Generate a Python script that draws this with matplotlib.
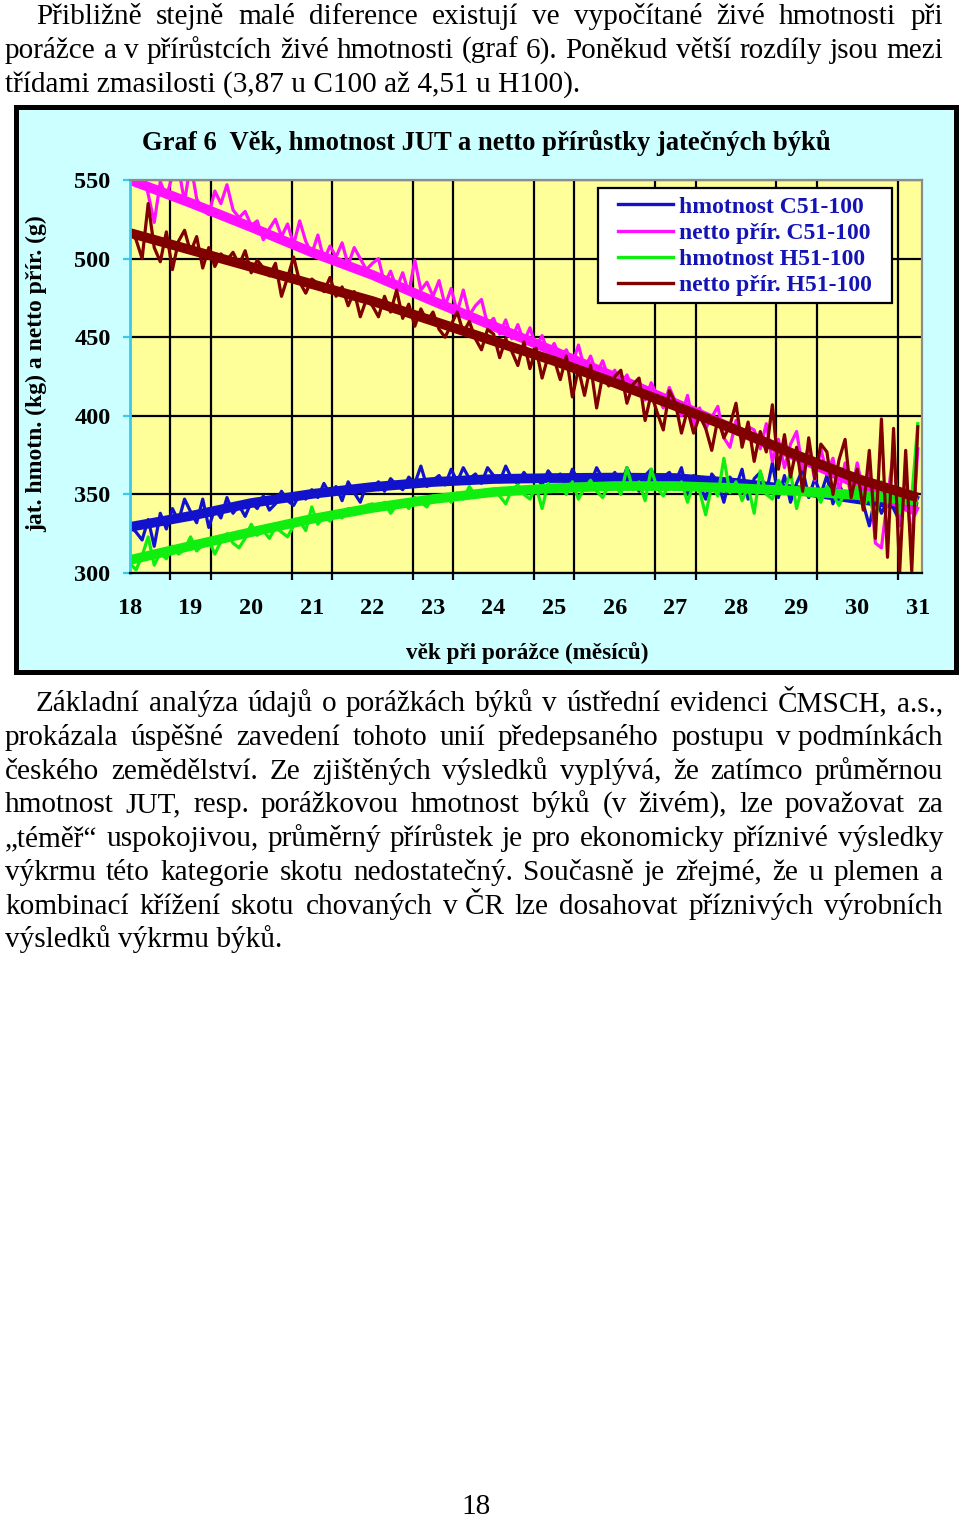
import numpy as np
import matplotlib
matplotlib.use('Agg')
import matplotlib.pyplot as plt
from matplotlib.patches import Rectangle
from matplotlib.lines import Line2D
from matplotlib.font_manager import FontProperties

W, H = 960, 1519
SERIF = 'Liberation Serif'

# ---------------- data ----------------
age = np.round(np.arange(180, 311) / 10.0, 1)   # 18.0 ... 31.0 months

hm_C = [330, 326, 321, 334, 317, 338, 328, 341, 333, 347,
        339, 332, 347, 329, 341, 335, 348, 338, 343, 336,
        345, 341, 349, 340, 344, 352, 346, 343, 350, 347,
        353, 348, 357, 350, 355, 346, 358, 351, 345, 356,
        354, 358, 352, 360, 356, 353, 361, 357, 368, 355,
        359, 362, 356, 366, 358, 367, 360, 363, 357, 367,
        362, 358, 368, 360, 357, 364, 359, 361, 356, 365,
        360, 363, 355, 366, 359, 362, 357, 367, 360, 358,
        364, 356, 367, 359, 352, 362, 366, 355, 361, 364,
        358, 367, 350, 362, 356, 347, 363, 358, 345, 361,
        355, 366, 347, 360, 364, 351, 370, 348, 362, 345,
        357, 366, 348, 360, 350, 362, 344, 356, 349, 347,
        352, 344, 330, 349, 338, 346, 341, 333, 351, 339,
        348]

netto_C = [552, 547, 556, 541, 523, 549, 539, 553, 558, 536,
           561, 538, 531, 528, 543, 535, 547, 531, 526, 530,
           521, 524, 512, 519, 525, 514, 522, 509, 524, 511,
           503, 515, 499, 508, 501, 510, 496, 507, 500, 493,
           497, 500, 484, 492, 481, 491, 478, 499, 480, 485,
           476, 486, 470, 481, 466, 480, 464, 470, 474, 458,
           462, 452, 461, 449, 458, 447, 456, 444, 451, 440,
           446, 437, 442, 433, 445, 430, 438, 427, 435, 424,
           429, 419, 426, 417, 423, 410, 421, 413, 405, 418,
           409, 400, 413, 394, 405, 392, 399, 406, 386, 380,
           397, 384, 393, 391, 379, 395, 371, 385, 367, 382,
           390, 366, 381, 359, 379, 363, 373, 352, 370, 348,
           370, 352, 365, 319, 316, 348, 377, 330, 358, 318,
           379]

hm_H = [306, 302, 311, 323, 305, 313, 309, 317, 312, 315,
        323, 314, 318, 321, 312, 320, 325, 319, 316, 322,
        331, 324, 327, 322, 329, 326, 323, 330, 333, 327,
        342, 331, 336, 333, 338, 335, 341, 337, 339, 343,
        344, 340, 345, 338, 343, 346, 341, 348, 345, 342,
        349, 346, 350, 345, 351, 347, 355, 349, 352, 350,
        353, 349, 344, 353, 356, 350, 347, 355, 341, 357,
        352, 356, 350, 358, 347, 354, 359, 352, 348, 356,
        357, 350, 367, 353, 358, 346, 366, 354, 349, 357,
        353, 358, 345, 357, 352, 337, 356, 349, 373, 351,
        358, 346, 355, 338, 365, 350, 347, 359, 352, 364,
        341, 356, 349, 353, 345, 355, 350, 343, 352, 349,
        355, 342, 350, 333, 358, 345, 352, 338, 354, 348,
        395]

netto_H = [518, 512, 500, 535, 507, 498, 517, 493, 511, 518,
           504, 514, 494, 507, 495, 503, 499, 504, 496, 505,
           491, 499, 494, 489, 497, 476, 488, 501, 485, 478,
           487, 484, 479, 488, 476, 482, 470, 479, 463, 474,
           470, 463, 476, 466, 480, 462, 471, 457, 468, 460,
           466, 455, 450, 458, 466, 453, 460, 449, 442, 455,
           452, 437, 449, 441, 432, 447, 430, 443, 424, 438,
           436, 423, 438, 412, 430, 413, 432, 405, 426, 419,
           425, 429, 408, 420, 424, 397, 414, 402, 391, 416,
           408, 389, 404, 389, 400, 392, 378, 398, 386, 394,
           408, 380, 396, 371, 390, 377, 407, 366, 388, 361,
           380, 352, 386, 360, 382, 377, 350, 372, 385, 348,
           366, 340, 378, 322, 398, 310, 392, 300, 378, 301,
           393]

trend_age = [18, 19, 20, 21, 22, 23, 24, 25, 26, 27, 28, 29, 30, 31]
hm_C_trend = [329.3, 336.3, 344.5, 350.3, 354.7, 357.9, 359.8, 360.4, 360.7, 360.4, 357.3, 352.8, 347.0, 342.0]
netto_C_trend = [550.0, 535.4, 520.0, 504.0, 489.6, 473.0, 457.0, 441.0, 424.7, 408.0, 391.0, 374.0, 356.6, 338.8]
hm_H_trend = [308.3, 317.2, 326.0, 334.4, 341.4, 347.0, 351.5, 354.0, 355.3, 355.3, 354.0, 352.2, 349.6, 345.8]
netto_H_trend = [516.3, 505.5, 494.7, 483.8, 473.0, 460.3, 447.6, 434.9, 420.9, 406.2, 391.0, 375.0, 360.0, 348.0]

x_tick_labels = ['18', '19', '20', '21', '22', '23', '24', '25', '26', '27', '28', '29', '30', '31']
y_ticks = [300, 350, 400, 450, 500, 550]
series_names = ['hmotnost C51-100', 'netto přír. C51-100', 'hmotnost H51-100', 'netto přír. H51-100']
colors = ['#1212CC', '#FF10FF', '#10EE10', '#800000']

title = 'Graf 6  Věk, hmotnost JUT a netto přírůstky jatečných býků'
y_label = 'jat. hmotn. (kg) a netto přír. (g)'
x_label = 'věk při porážce (měsíců)'

para1 = ['Přibližně stejně malé diference existují ve vypočítané živé hmotnosti při',
         'porážce a v přírůstcích živé hmotnosti (graf 6). Poněkud větší rozdíly jsou mezi',
         'třídami zmasilosti (3,87 u C100 až 4,51 u H100).']
para2 = ['Základní analýza údajů o porážkách býků v ústřední evidenci ČMSCH, a.s.,',
         'prokázala úspěšné zavedení tohoto unií předepsaného postupu v\u00a0podmínkách',
         'českého zemědělství. Ze zjištěných výsledků vyplývá, že zatímco průměrnou',
         'hmotnost JUT, resp. porážkovou hmotnost býků (v živém), lze považovat za',
         '„téměř“ uspokojivou, průměrný přírůstek je pro ekonomicky příznivé výsledky',
         'výkrmu této kategorie skotu nedostatečný. Současně je zřejmé, že u plemen a',
         'kombinací křížení skotu chovaných v\u00a0ČR lze dosahovat příznivých výrobních',
         'výsledků výkrmu býků.']
page_number = '18'


def fx(x):
    return x / W


def fy(y):
    return 1 - y / H


fig = plt.figure(figsize=(W / 100, H / 100), dpi=100)
fig.patch.set_facecolor('white')
renderer = fig.canvas.get_renderer()

# ---------------- chart frame ----------------
frame = Rectangle((fx(15.5), fy(671.5)), fx(955.5) - fx(15.5), fy(107.5) - fy(671.5),
                  transform=fig.transFigure, facecolor='#CCFFFF', edgecolor='black',
                  linewidth=3.6, zorder=0)
fig.add_artist(frame)

px_per_month = 60.6
ax = fig.add_axes([fx(130), fy(573), fx(922) - fx(130), fy(180) - fy(573)])
ax.set_facecolor('#FFFF99')
ax.set_xlim(18, 18 + (922 - 130) / px_per_month)
ax.set_ylim(300, 550)
ax.set_axisbelow(True)

# grid / ticks
grid_x = [18 + k * 2 / 3 for k in range(20)]
ax.set_xticks(list(range(18, 32)))
ax.set_xticklabels(x_tick_labels)
ax.set_xticks(grid_x, minor=True)
ax.set_yticks(y_ticks)
ax.set_yticklabels([str(v) for v in y_ticks])
ax.grid(True, which='minor', axis='x', color='black', linewidth=1.6)
ax.grid(True, which='major', axis='y', color='black', linewidth=1.6)
ax.grid(False, which='major', axis='x')
ax.tick_params(axis='x', which='major', length=0, pad=18)
ax.tick_params(axis='x', which='minor', length=5, width=1.6, color='black', direction='out')
ax.tick_params(axis='y', which='major', length=5, width=1.6, color='#33CCEE', direction='out', pad=9)

fp_tick = FontProperties(family=SERIF, weight='bold', size=17.5)
for lbl in ax.get_xticklabels() + ax.get_yticklabels():
    lbl.set_fontproperties(fp_tick)

ax.spines['left'].set_color('#33CCEE')
ax.spines['left'].set_linewidth(2)
ax.spines['top'].set_color('#8C8C8C')
ax.spines['right'].set_color('#8C8C8C')
ax.spines['top'].set_linewidth(1.6)
ax.spines['right'].set_linewidth(1.6)
ax.spines['bottom'].set_color('black')
ax.spines['bottom'].set_linewidth(1.6)

raw = [hm_C, netto_C, hm_H, netto_H]
trends = [hm_C_trend, netto_C_trend, hm_H_trend, netto_H_trend]
handles = []
for i, (vals, tr, col, name) in enumerate(zip(raw, trends, colors, series_names)):
    ax.plot(age, vals, color=col, linewidth=2.3, zorder=2 + i * 0.1)
    ax.plot(trend_age, tr, color=col, linewidth=7.0, solid_capstyle='butt',
            solid_joinstyle='round', zorder=2.05 + i * 0.1)
    handles.append(Line2D([], [], color=col, linewidth=2.4))

# legend box + legend
lbox = Rectangle((fx(598), fy(303)), fx(892) - fx(598), fy(188) - fy(303),
                 transform=fig.transFigure, facecolor='white', edgecolor='black',
                 linewidth=1.6, zorder=4)
ax.add_artist(lbox)
lbox.set_clip_on(False)
leg = ax.legend(handles, series_names, loc='upper left',
                bbox_to_anchor=(fx(618), fy(196)), bbox_transform=fig.transFigure,
                prop=FontProperties(family=SERIF, weight='bold', size=17),
                frameon=False, borderpad=0, borderaxespad=0, labelspacing=0.2,
                handlelength=2.33, handletextpad=0.25)
leg.set_zorder(5)
for t in leg.get_texts():
    t.set_color('#1414B4')

# chart texts
fig.text(fx(486), fy(150), title, ha='center', va='baseline',
         fontfamily=SERIF, fontweight='bold', fontsize=19.2)
fig.text(fx(37), fy(374), y_label, ha='center', va='center', rotation=90,
         fontfamily=SERIF, fontweight='bold', fontsize=17)
fig.text(fx(527), fy(659), x_label, ha='center', va='baseline',
         fontfamily=SERIF, fontweight='bold', fontsize=16.7)


# ---------------- body text ----------------
def measure(s, size):
    t = fig.text(0, 0, s, fontfamily=SERIF, fontsize=size)
    w = t.get_window_extent(renderer).width
    t.remove()
    return w


X_RIGHT = 943
X_LEFT = 5
X_INDENT = 36
s0 = 20.0
ratios = []
for para in (para1, para2):
    for i, line in enumerate(para[:-1]):
        x0 = X_INDENT if i == 0 else X_LEFT
        ratios.append((X_RIGHT - x0) / measure(line, s0))
body_size = s0 * min(ratios) * 0.995


def draw_para(lines, baselines):
    for i, (line, yb) in enumerate(zip(lines, baselines)):
        x0 = X_INDENT if i == 0 else X_LEFT
        if i == len(lines) - 1:
            fig.text(fx(x0), fy(yb), line, ha='left', va='baseline',
                     fontfamily=SERIF, fontsize=body_size)
            continue
        words = line.split(' ')
        widths = [measure(w, body_size) for w in words]
        gap = (X_RIGHT - x0 - sum(widths)) / (len(words) - 1)
        x = x0
        for w, wd in zip(words, widths):
            fig.text(fx(x), fy(yb), w, ha='left', va='baseline',
                     fontfamily=SERIF, fontsize=body_size)
            x += wd + gap


draw_para(para1, [24, 58, 92])
draw_para(para2, [711, 745, 779, 812, 846, 880, 914, 947])

fig.text(fx(476), fy(1514), page_number, ha='center', va='baseline',
         fontfamily=SERIF, fontsize=body_size)

fig.savefig('out.png', dpi=100, facecolor='white')
